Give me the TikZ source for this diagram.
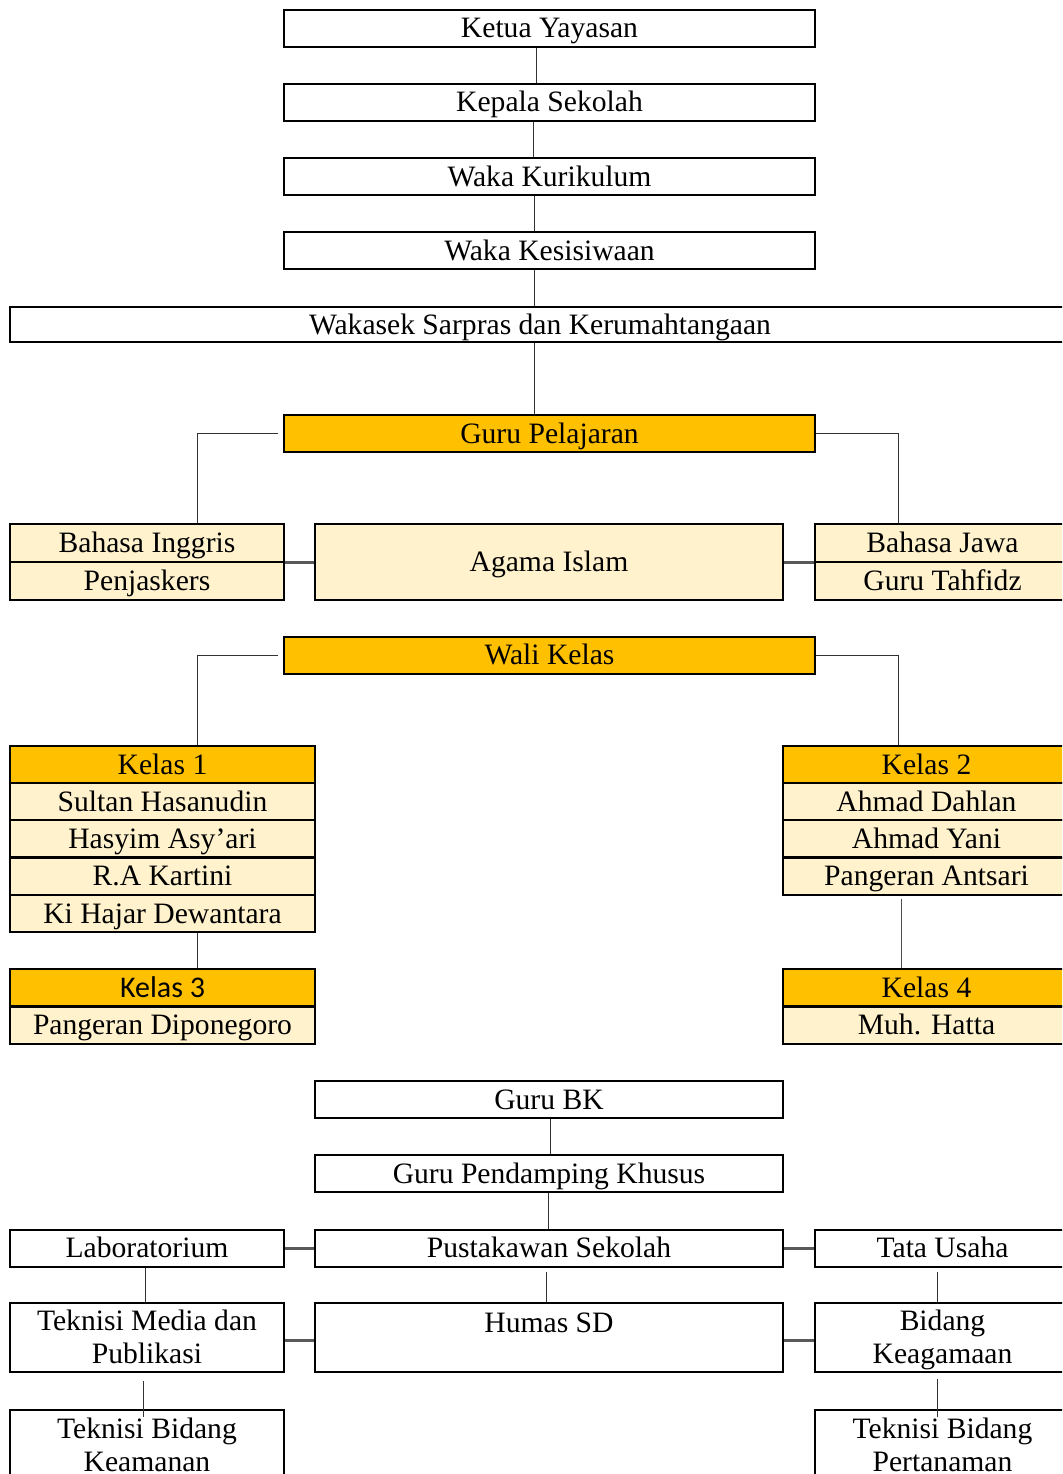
\documentclass[tikz,border=0pt]{standalone}
\usepackage{fontspec}
\setmainfont{Liberation Serif}
\newfontfamily\calibrifont{Carlito}
\definecolor{kuning}{HTML}{FFC000}
\definecolor{krem}{HTML}{FFF2CC}
\newcommand{\teks}{\fontsize{14.8}{16.5}\selectfont}

\begin{document}
\begin{tikzpicture}[x=0.5pt,y=-0.5pt,
  kotak/.style={draw,line width=1pt,inner sep=0pt,text height=9.9pt,text depth=0pt,minimum height=18.5pt,font=\teks},
  dua/.style={draw,line width=1pt,inner sep=0pt,align=center,text height=26.4pt,text depth=-2pt,minimum height=34.5pt,font=\teks},
  lebar/.style={minimum width=265.5pt},
  tengah/.style={minimum width=234pt},
  kiri/.style={minimum width=137pt},
  kanan/.style={minimum width=127.5pt},
  kolkiri/.style={minimum width=152.5pt},
  kolkanan/.style={minimum width=143.5pt},
  judul/.style={fill=kuning},
  isi/.style={fill=krem},
  garis/.style={draw=black!80,line width=0.5pt},
  sambung/.style={draw=black!65,line width=1.5pt}]
\path[use as bounding box,clip] (0,0) rectangle (1062,1474);

% Top chain
\node[kotak,lebar] (ketua) at (549.5,28) {Ketua Yayasan};
\node[kotak,lebar] (kepsek) at (549.5,102) {Kepala Sekolah};
\node[kotak,lebar] (kurikulum) at (549.5,176.5) {Waka Kurikulum};
\node[kotak,lebar] (kesiswaan) at (549.5,250.5) {Waka Kesisiwaan};
\node[kotak,minimum width=530pt,minimum height=17.5pt] (sarpras) at (540,324.5) {Wakasek Sarpras dan Kerumahtangaan};
\draw[garis] (ketua.south -| 536,0) -- (kepsek.north -| 536,0);
\draw[garis] (kepsek.south -| 533,0) -- (kurikulum.north -| 533,0);
\draw[garis] (kurikulum.south -| 534,0) -- (kesiswaan.north -| 534,0);
\draw[garis] (kesiswaan.south -| 534,0) -- (sarpras.north -| 534,0);

% Guru pelajaran
\node[kotak,lebar,judul] (gurupel) at (549.5,433.5) {Guru Pelajaran};
\draw[garis] (sarpras.south -| 534,0) -- (gurupel.north -| 534,0);
\node[kotak,kiri,isi,minimum height=19pt] (inggris) at (147,543) {Bahasa Inggris};
\node[kotak,kiri,isi,minimum height=19pt] (penjas) at (147,581) {Penjaskers};
\node[kotak,tengah,isi,minimum height=38pt] (agama) at (549,562) {Agama Islam};
\node[kotak,kanan,isi,minimum height=19pt] (jawa) at (942.5,543) {Bahasa Jawa};
\node[kotak,kanan,isi,minimum height=19pt] (tahfidz) at (942.5,581) {Guru Tahfidz};
\draw[garis] ([xshift=-2.5pt]gurupel.west) -| (inggris.north -| 197,0);
\draw[garis] (gurupel.east) -| (jawa.north -| 898,0);
\draw[sambung] (agama.west -| inggris.east) -- (agama.west);
\draw[sambung] (agama.east) -- (agama.east -| jawa.west);

% Wali kelas
\node[kotak,lebar,judul] (wali) at (549.5,655) {Wali Kelas};
\node[kotak,kolkiri,judul] (kelas1) at (162.5,764.5) {Kelas 1};
\node[kotak,kolkiri,isi] (hasanudin) at (162.5,801.5) {Sultan Hasanudin};
\node[kotak,kolkiri,isi] (hasyim) at (162.5,838.5) {Hasyim Asy’ari};
\node[kotak,kolkiri,isi] (kartini) at (162.5,876) {R.A Kartini};
\node[kotak,kolkiri,isi] (dewantara) at (162.5,913.5) {Ki Hajar Dewantara};
\node[kotak,kolkiri,judul,font=\calibrifont\fontsize{15}{16.5}\selectfont] (kelas3) at (162.5,987.5) {Kelas 3};
\node[kotak,kolkiri,isi] (diponegoro) at (162.5,1025) {Pangeran Diponegoro};
\node[kotak,kolkanan,judul] (kelas2) at (926.5,764.5) {Kelas 2};
\node[kotak,kolkanan,isi] (dahlan) at (926.5,801.5) {Ahmad Dahlan};
\node[kotak,kolkanan,isi] (yani) at (926.5,838.5) {Ahmad Yani};
\node[kotak,kolkanan,isi] (antsari) at (926.5,876) {Pangeran Antsari};
\node[kotak,kolkanan,judul] (kelas4) at (926.5,987.5) {Kelas 4};
\node[kotak,kolkanan,isi] (hatta) at (926.5,1025) {Muh. Hatta};
\draw[garis] ([xshift=-2.5pt]wali.west) -| (kelas1.north -| 197,0);
\draw[garis] (wali.east) -| (kelas2.north -| 898,0);
\draw[garis] (dewantara.south -| 197,0) -- (kelas3.north -| 197,0);
\draw[garis,draw=black!70] ([yshift=-1.5pt]antsari.south -| 901,0) -- (kelas4.north -| 901,0);

% Staf lain
\node[kotak,tengah] (bk) at (549,1099.5) {Guru BK};
\node[kotak,tengah] (gpk) at (549,1173.5) {Guru Pendamping Khusus};
\node[kotak,tengah] (pustaka) at (549,1248) {Pustakawan Sekolah};
\node[kotak,kiri] (lab) at (147,1248) {Laboratorium};
\node[kotak,kanan] (tu) at (942.5,1248) {Tata Usaha};
\node[dua,minimum width=137pt] (media) at (147,1337.5) {Teknisi Media dan\\Publikasi};
\node[kotak,tengah,minimum height=34.5pt,text depth=14.6pt] (humas) at (549,1337.5) {Humas SD};
\node[dua,minimum width=127.5pt] (agamaan) at (942.5,1337.5) {Bidang\\Keagamaan};
\node[dua,minimum width=137pt,minimum height=35pt] (keamanan) at (147,1445) {Teknisi Bidang\\Keamanan};
\node[dua,minimum width=127.5pt,minimum height=35pt] (tanam) at (942.5,1445) {Teknisi Bidang\\Pertanaman};
\draw[garis] (bk.south -| 550,0) -- (gpk.north -| 550,0);
\draw[garis] (gpk.south -| 548,0) -- (pustaka.north -| 548,0);
\draw[sambung] (lab.east) -- (pustaka.west);
\draw[sambung] (pustaka.east) -- (tu.west);
\draw[garis] (lab.south -| 145,0) -- (media.north -| 145,0);
\draw[garis] ([yshift=-2pt]pustaka.south -| 546,0) -- (humas.north -| 546,0);
\draw[garis] ([yshift=-2pt]tu.south -| 937,0) -- (agamaan.north -| 937,0);
\draw[sambung] ([yshift=-1.25pt]media.east) -- ([yshift=-1.25pt]humas.west);
\draw[sambung] ([yshift=-1.25pt]humas.east) -- ([yshift=-1.25pt]agamaan.west);
\draw[garis] ([yshift=-4pt]media.south -| 143,0) -- ([yshift=-4pt]keamanan.north -| 143,0);
\draw[garis] ([yshift=-3pt]agamaan.south -| 937,0) -- ([yshift=-4pt]tanam.north -| 937,0);
\end{tikzpicture}
\end{document}
